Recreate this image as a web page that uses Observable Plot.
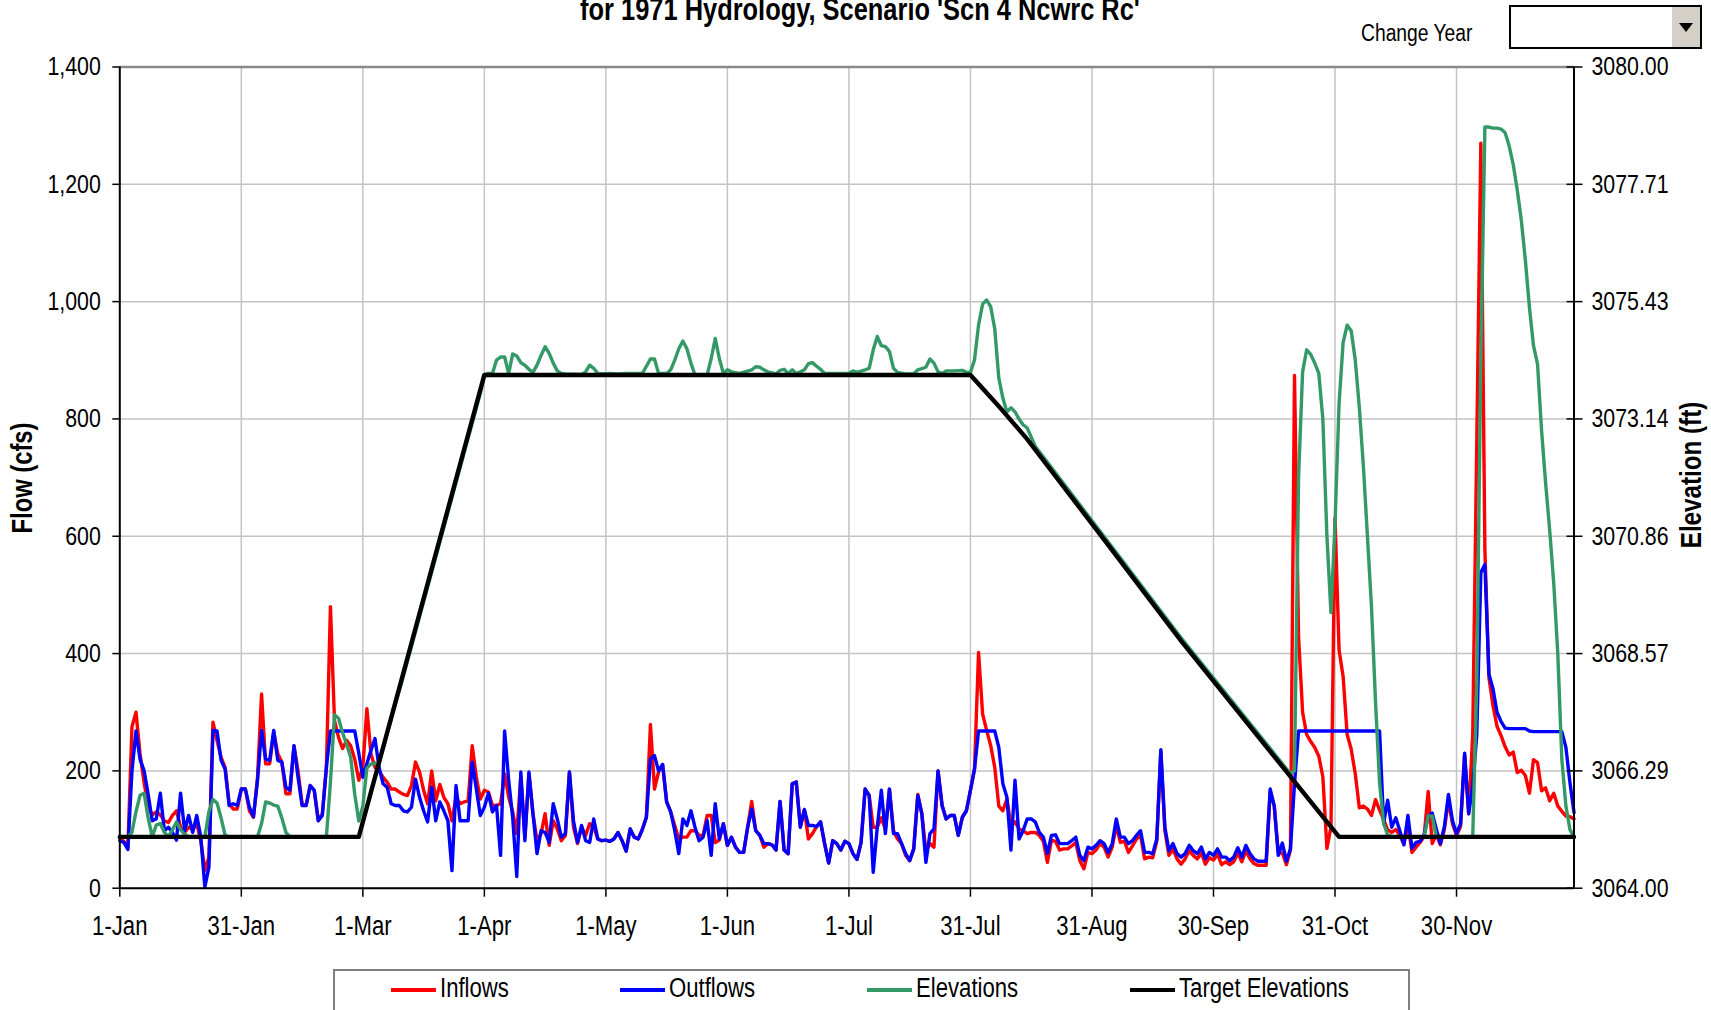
<!DOCTYPE html>
<html><head><meta charset="utf-8">
<script src="https://cdn.jsdelivr.net/npm/d3@7"></script>
<script src="https://cdn.jsdelivr.net/npm/@observablehq/plot@0.6"></script>
<style>
body{margin:0;background:#fff;}
#wrap{position:relative;width:1711px;height:1010px;overflow:hidden;background:#fff;font-family:"Liberation Sans",Arial,sans-serif;}
.t{position:absolute;white-space:nowrap;line-height:1;color:#000;}
.sw{position:absolute;height:4px;}
</style></head><body><div id="wrap"></div>
<script>
// ---- axis categories / tick labels ----
const tickIndex = [0,30,60,90,120,150,180,210,240,270,300,330];
const tickLabels = ["1-Jan","31-Jan","1-Mar","1-Apr","1-May","1-Jun","1-Jul","31-Jul","31-Aug","30-Sep","31-Oct","30-Nov"];
const flowTicks = [0,200,400,600,800,1000,1200,1400];

// ---- daily inflows (cfs), 360 values ----
const inflows = [
85,80,70,275,300,229,180,140,125,130,
125,115,112,124,132,104,95,104,100,110,
81,30,53,283,252,223,206,144,135,135,
169,169,132,121,189,331,212,212,266,229,
215,161,161,243,200,144,141,175,167,115,
127,206,480,286,257,238,252,243,220,184,
206,306,229,206,200,189,181,169,169,164,
160,158,175,215,198,167,144,200,149,177,
155,144,115,155,144,147,149,243,190,152,
167,164,141,141,144,195,155,130,93,190,
87,195,127,81,93,127,73,115,101,81,
90,198,104,76,104,90,110,104,84,81,
82,80,84,95,81,63,101,87,84,100,
121,279,169,198,211,147,130,107,84,87,
87,98,98,90,90,124,124,78,82,110,
73,87,70,61,61,104,148,98,90,70,
76,74,65,148,65,59,178,181,104,134,
84,93,105,113,76,43,81,76,65,80,
76,59,49,78,169,158,104,104,120,100,
169,98,84,76,56,47,67,160,127,64,
76,70,200,141,118,124,124,90,121,132,
167,203,402,297,269,243,206,140,132,152,
107,113,101,98,93,95,95,90,80,44,
82,80,65,67,67,72,78,47,33,61,
59,65,76,70,53,70,107,78,80,61,
72,84,90,50,53,52,80,234,98,56,
66,50,41,50,64,56,50,60,41,52,
48,58,40,45,40,45,60,45,64,50,
42,39,39,39,165,140,60,60,40,65,
874,429,300,262,250,240,225,190,68,104,
631,406,361,262,237,195,137,140,135,124,
151,133,117,100,95,100,90,75,110,61,
70,78,88,165,76,92,74,100,150,110,
90,105,227,127,262,760,1270,577,359,311,
276,260,241,227,232,197,201,192,162,219,
214,166,171,149,162,140,131,123,122,118
];

// ---- daily outflows (cfs), 360 values ----
const outflows = [
81,78,66,200,268,220,200,160,115,118,
162,98,104,95,82,162,98,124,95,124,
87,2,36,269,268,218,203,141,144,141,
169,169,138,122,184,269,220,218,269,218,
215,172,167,243,189,141,141,175,167,115,
124,206,268,268,268,268,268,268,268,230,
189,212,235,255,206,178,172,144,141,141,
132,130,138,186,155,132,113,172,115,147,
132,115,30,175,115,115,115,215,170,124,
138,162,130,141,56,268,184,120,20,198,
81,198,127,59,98,95,78,144,118,87,
93,198,115,78,107,81,78,118,84,81,
82,80,84,95,81,63,101,87,84,100,
121,220,226,200,211,147,130,98,59,118,
107,132,104,81,87,115,56,144,84,110,
73,87,70,61,61,104,135,98,90,76,
76,74,65,148,65,59,178,181,104,134,
107,107,105,113,76,43,81,76,65,80,
76,59,49,78,169,158,27,104,167,93,
169,93,93,76,59,47,67,158,127,44,
93,101,200,141,118,124,124,90,121,132,
167,203,268,268,268,268,268,240,178,155,
65,184,84,98,118,118,113,95,87,59,
90,91,76,76,76,81,87,56,47,70,
67,73,81,76,61,76,118,87,87,76,
81,90,98,61,61,59,84,236,104,64,
76,59,53,59,73,64,59,70,50,61,
56,67,53,53,47,53,69,53,73,59,
50,46,46,46,169,140,56,77,46,67,
178,268,268,268,268,268,268,268,268,268,
268,268,268,268,268,268,268,268,268,268,
268,268,111,150,104,120,98,74,124,68,
78,80,91,123,128,101,76,105,160,115,
93,110,230,127,175,262,538,552,365,340,
300,284,273,272,272,272,272,272,268,267,
267,267,267,267,267,267,267,240,180,129
];

// ---- elevations (ft): day index and value at each vertex of the line ----
const elevDay = [0,2,3,4,5,6,7,8,9,10,11,12,13,14,15,16,17,21,22,23,24,25,26,27,34,35,36,37,38,39,40,41,42,51,52,53,54,55,56,57,58,59,60,61,62,63,64,70,80,89,
90,91,92,93,94,95,96,97,98,99,100,101,102,103,104,105,106,107,108,109,110,114,115,116,117,118,119,121,123,125,129,130,131,132,133,135,136,137,138,139,140,141,142,145,146,147,148,149,150,151,153,156,157,158,159,160,162,163,164,165,166,167,168,169,170,171,172,173,174,180,181,182,184,185,186,187,188,189,190,191,192,194,196,197,199,200,201,202,203,204,206,208,209,210,
211,212,213,214,215,216,217,218,219,220,221,222,223,224,226,243,262,289,
290,291,292,293,294,295,296,297,298,299,300,301,302,303,304,305,306,307,308,309,310,311,312,313,314,322,323,324,325,334,
335,336,337,338,339,340,341,342,343,344,345,346,347,348,349,350,351,352,353,354,355,356,357,358,359];
const elevFt = [3065.00,3065.00,3065.09,3065.49,3065.81,3065.85,3065.37,3065.00,3065.23,3065.26,3065.09,3065.00,3065.14,3065.29,3065.14,3065.05,3065.00,3065.00,3065.49,3065.73,3065.66,3065.37,3065.03,3065.00,3065.00,3065.26,3065.68,3065.66,3065.62,3065.60,3065.37,3065.09,3065.00,3065.00,3066.06,3067.38,3067.31,3067.03,3066.80,3066.55,3065.83,3065.31,3065.60,3066.34,3066.42,3066.43,3066.45,3068.13,3071.03,3073.64,
3074.00,3074.03,3074.03,3074.29,3074.35,3074.35,3074.03,3074.41,3074.37,3074.24,3074.19,3074.11,3074.05,3074.19,3074.38,3074.55,3074.42,3074.23,3074.08,3074.03,3074.02,3074.01,3074.06,3074.19,3074.13,3074.03,3074.02,3074.03,3074.02,3074.03,3074.03,3074.17,3074.31,3074.31,3074.03,3074.03,3074.10,3074.29,3074.51,3074.66,3074.51,3074.23,3074.00,3074.00,3074.32,3074.71,3074.32,3074.03,3074.10,3074.06,3074.03,3074.10,3074.16,3074.15,3074.10,3074.06,3074.02,3074.09,3074.11,3074.03,3074.10,3074.03,3074.06,3074.10,3074.22,3074.24,3074.17,3074.11,3074.03,3074.03,3074.08,3074.05,3074.10,3074.13,3074.49,3074.75,3074.57,3074.55,3074.46,3074.13,3074.05,3074.02,3074.02,3074.10,3074.15,3074.31,3074.23,3074.06,3074.03,3074.08,3074.08,3074.09,3074.05,3074.05,
3074.29,3074.97,3075.38,3075.46,3075.33,3074.90,3073.94,3073.55,3073.28,3073.36,3073.28,3073.14,3073.03,3072.97,3072.61,3070.85,3068.88,3066.23,
3066.29,3072.00,3074.06,3074.49,3074.40,3074.23,3074.03,3073.14,3070.86,3069.37,3071.09,3073.44,3074.63,3074.97,3074.86,3074.29,3073.37,3072.23,3070.86,3069.49,3067.63,3066.06,3065.26,3065.04,3065.00,3065.00,3065.41,3065.41,3065.00,3065.00,
3068.00,3074.29,3078.83,3078.83,3078.81,3078.81,3078.79,3078.72,3078.46,3078.10,3077.60,3077.01,3076.23,3075.31,3074.57,3074.21,3072.91,3071.89,3070.97,3069.94,3068.57,3066.51,3065.60,3065.14,3065.00];

// ---- target elevations (ft) ----
const targetDay = [0,59,90,210,217,224,243,262,301,359];
const targetFt = [3065.00,3065.00,3074.00,3074.00,3073.39,3072.75,3070.79,3068.82,3065.00,3065.00];

// secondary axis mapping: 3064..3080 ft on the 0..1400 cfs range
const elevMin = 3064, elevMax = 3080, flowMax = 1400;
const toFlow = ft => (ft - elevMin) * flowMax / (elevMax - elevMin);
const elevFormat = v => (elevMin + v * (elevMax - elevMin) / flowMax).toFixed(2);

const elevRows = elevDay.map((d, i) => ({day: d, ft: elevFt[i]}));
const targetRows = targetDay.map((d, i) => ({day: d, ft: targetFt[i]}));
const lastDay = inflows.length - 1;

const font = '"Liberation Sans",Arial,sans-serif';
const grid = "#c4c4c4";
const narrow = 0.82; // the original uses a condensed face

const chart = Plot.plot({
  width: 1711, height: 1010,
  marginLeft: 119.3, marginRight: 137.5, marginTop: 66.5, marginBottom: 122.3,
  style: {fontFamily: font, fontSize: "26px", background: "transparent", overflow: "visible", color: "#000"},
  x: {type: "linear", domain: [0, lastDay]},
  y: {domain: [0, flowMax]},
  marks: [
    Plot.gridY(flowTicks, {stroke: grid, strokeOpacity: 1, strokeWidth: 1.5}),
    Plot.gridX(tickIndex.slice(1), {stroke: grid, strokeOpacity: 1, strokeWidth: 1.5}),
    Plot.ruleY([flowMax], {stroke: "#8a8a8a", strokeWidth: 2.5}),
    Plot.line(inflows, {x: (d, i) => i, y: d => d, stroke: "#ff0000", strokeWidth: 3.4, strokeLinejoin: "round"}),
    Plot.line(outflows, {x: (d, i) => i, y: d => d, stroke: "#0000ff", strokeWidth: 3.4, strokeLinejoin: "round"}),
    Plot.line(elevRows, {x: "day", y: d => toFlow(d.ft), stroke: "#339966", strokeWidth: 3.4, strokeLinejoin: "round"}),
    Plot.line(targetRows, {x: "day", y: d => toFlow(d.ft), stroke: "#000000", strokeWidth: 4.4, strokeLinejoin: "round"}),
    Plot.ruleY([0], {stroke: "#000", strokeWidth: 2}),
    Plot.ruleX([0, lastDay], {stroke: "#000", strokeWidth: 2}),
    Plot.axisY(flowTicks, {anchor: "left", tickSize: 7, tickPadding: 12, tickFormat: d3.format(","), label: null, fontSize: 26, strokeWidth: 1.5}),
    Plot.axisY(flowTicks, {anchor: "right", tickSize: 16, dx: -8, tickPadding: 9.5, tickFormat: elevFormat, label: null, fontSize: 26, strokeWidth: 1.5}),
    Plot.axisX(tickIndex, {anchor: "bottom", tickSize: 9, tickPadding: 19, tickFormat: d => tickLabels[tickIndex.indexOf(d)], label: null, fontSize: 27, strokeWidth: 1.5})
  ]
});
const wrap = document.getElementById("wrap");
chart.style.position = "absolute"; chart.style.left = "0"; chart.style.top = "0";
wrap.appendChild(chart);
// condense the SVG texts horizontally
chart.querySelectorAll("text").forEach(t => {
  const w = t.getComputedTextLength();
  if (w > 0) {
    t.setAttribute("textLength", (w * narrow).toFixed(2));
    t.setAttribute("lengthAdjust", "spacingAndGlyphs");
  }
});

function addText(txt, css) {
  const el = document.createElement("div");
  el.className = "t";
  el.textContent = txt;
  Object.assign(el.style, css);
  wrap.appendChild(el);
  return el;
}
// title (top line is cut off in the original)
addText("for 1971 Hydrology, Scenario 'Scn 4 Ncwrc Rc'", {left: "860px", top: "-6px", fontSize: "31px", fontWeight: "bold", transform: `translateX(-50%) scaleX(${narrow})`});
// change-year control
addText("Change Year", {left: "1361px", top: "21.5px", fontSize: "23.5px", transformOrigin: "0 50%", transform: `scaleX(${narrow})`});
const box = document.createElement("div");
Object.assign(box.style, {position: "absolute", left: "1509px", top: "5px", width: "189px", height: "40px", border: "2.5px solid #000", background: "#fff"});
const btn = document.createElement("div");
Object.assign(btn.style, {position: "absolute", right: "0", top: "0", width: "30px", height: "40px", background: "#d4d0c8", borderLeft: "2px solid #fff", boxSizing: "border-box"});
const tri = document.createElement("div");
Object.assign(tri.style, {position: "absolute", left: "7px", top: "16px", width: "0", height: "0", borderLeft: "7px solid transparent", borderRight: "7px solid transparent", borderTop: "9px solid #000"});
btn.appendChild(tri); box.appendChild(btn); wrap.appendChild(box);

// axis titles
addText("Flow (cfs)", {left: "22px", top: "478px", fontSize: "29px", fontWeight: "bold", transform: `translate(-50%,-50%) rotate(-90deg) scaleX(${narrow})`});
addText("Elevation (ft)", {left: "1691px", top: "475px", fontSize: "29.5px", fontWeight: "bold", transform: `translate(-50%,-50%) rotate(-90deg) scaleX(${narrow})`});

// legend
const legendNames = ["Inflows", "Outflows", "Elevations", "Target Elevations"];
const legendColors = ["#ff0000", "#0000ff", "#339966", "#000000"];
const legendSwatchX = [391, 620, 867, 1130];
const lg = document.createElement("div");
Object.assign(lg.style, {position: "absolute", left: "333px", top: "969px", width: "1073px", height: "60px", border: "2px solid #808080", background: "#fff"});
wrap.appendChild(lg);
legendNames.forEach((name, i) => {
  const sw = document.createElement("div");
  sw.className = "sw";
  Object.assign(sw.style, {left: legendSwatchX[i] + "px", top: "988px", width: "45px", background: legendColors[i]});
  wrap.appendChild(sw);
  addText(name, {left: (legendSwatchX[i] + 49) + "px", top: "975px", fontSize: "27px", transformOrigin: "0 50%", transform: `scaleX(${narrow})`});
});
</script></body></html>
